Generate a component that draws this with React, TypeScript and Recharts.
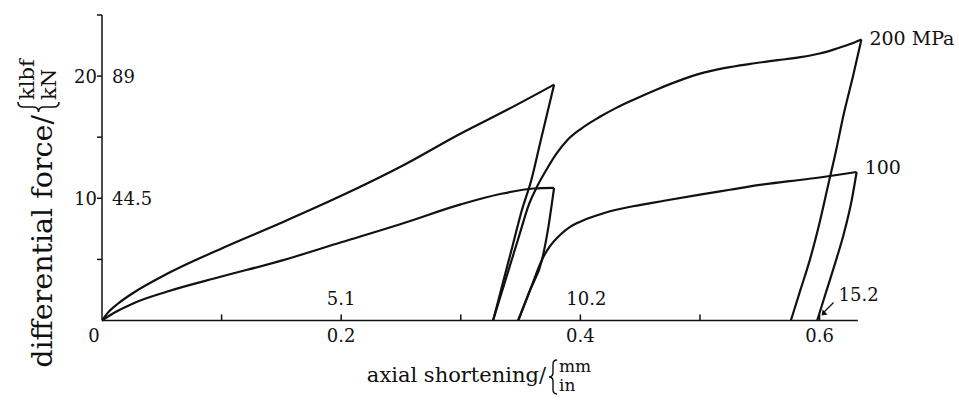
import { LineChart, Line, XAxis, YAxis, ReferenceLine } from "recharts";

type Pt = [number, number];

// axial shortening (in) vs differential force (klbf), loops split into loading / unloading legs
const load200a: Pt[] = [
  [0, 0], [0.006, 0.75], [0.013, 1.35], [0.026, 2.25], [0.054, 3.8], [0.1, 5.9], [0.15, 8.0],
  [0.2, 10.2], [0.25, 12.6], [0.3, 15.3], [0.34, 17.3], [0.378, 19.3],
];
const unload200a: Pt[] = [
  [0.327, 0], [0.335, 3], [0.343, 6], [0.351, 9], [0.359, 11.5], [0.367, 14.8], [0.378, 19.3],
];
const load200b: Pt[] = [
  [0.327, 0], [0.338, 3.5], [0.349, 7], [0.357, 9.5], [0.364, 11.0], [0.372, 12.4], [0.38, 13.65],
  [0.389, 14.75], [0.4, 15.65], [0.416, 16.65], [0.43, 17.4], [0.444, 18.05], [0.465, 18.95],
  [0.486, 19.75], [0.5, 20.2], [0.52, 20.65], [0.542, 21.0], [0.565, 21.3], [0.584, 21.55],
  [0.6, 21.85], [0.611, 22.15], [0.625, 22.6], [0.635, 23.0],
];
const unload200b: Pt[] = [
  [0.576, 0], [0.584, 2.5], [0.592, 5], [0.6, 8], [0.607, 11], [0.614, 14], [0.62, 16.8],
  [0.628, 20], [0.635, 23.0],
];
const load100a: Pt[] = [
  [0, 0], [0.0125, 0.75], [0.026, 1.4], [0.054, 2.35], [0.1, 3.6], [0.15, 4.9], [0.2, 6.4],
  [0.25, 7.9], [0.3, 9.5], [0.333, 10.35], [0.361, 10.8], [0.378, 10.85],
];
const unload100a: Pt[] = [
  [0.348, 0], [0.358, 2.5], [0.368, 5], [0.373, 7.5], [0.378, 10.85],
];
const load100b: Pt[] = [
  [0.348, 0], [0.358, 2.5], [0.368, 5], [0.374, 6], [0.383, 7.0], [0.392, 7.7], [0.405, 8.3],
  [0.42, 8.8], [0.444, 9.35], [0.47, 9.8], [0.5, 10.3], [0.525, 10.7], [0.55, 11.1],
  [0.575, 11.4], [0.6, 11.7], [0.631, 12.15],
];
const unload100b: Pt[] = [
  [0.598, 0], [0.606, 2.5], [0.614, 5], [0.62, 7], [0.627, 9.9], [0.631, 12.15],
];

const xTicks = [0, 0.1, 0.2, 0.3, 0.4, 0.5, 0.6];
const inchLabels = ["0", "", "0.2", "", "0.4", "", "0.6"];
const mmLabels = ["", "", "5.1", "", "10.2", "", "15.2"];
const yTicks = [0, 5, 10, 15, 20, 25];
const klbfLabels = ["", "", "10", "", "20", ""];
const kNLabels = ["", "", "44.5", "", "89", ""];
const xAxisEnd = 0.632;

const INK = "#111";
const FONT = "'DejaVu Serif', 'Liberation Serif', serif";

const toPts = (arr: Pt[]) => arr.map(([x, y]) => ({ x, y }));

// vertical curly brace opening to the right, point at x, spanning y0..y1
const brace = (x: number, y0: number, y1: number, w: number) => {
  const m = (y0 + y1) / 2;
  const c = x + w / 2;
  const r = w * 0.55;
  return `M${x + w},${y0} Q${c},${y0} ${c},${y0 + r} L${c},${m - r} Q${c},${m} ${x},${m} Q${c},${m} ${c},${m + r} L${c},${y1 - r} Q${c},${y1} ${x + w},${y1}`;
};

const series = [
  { key: "load200a", data: load200a },
  { key: "unload200a", data: unload200a },
  { key: "load200b", data: load200b, tag: "200 MPa", dy: 6 },
  { key: "unload200b", data: unload200b },
  { key: "load100a", data: load100a },
  { key: "unload100a", data: unload100a },
  { key: "load100b", data: load100b, tag: "100", dy: 2 },
  { key: "unload100b", data: unload100b },
];

function XTick(props: any) {
  const { x, y, payload } = props;
  const i = xTicks.indexOf(payload.value);
  const inch = inchLabels[i];
  const mm = mmLabels[i];
  const last = i === xTicks.length - 1;
  return (
    <g fontFamily={FONT} fontSize={18} fill={INK}>
      {i > 0 && <line x1={x} y1={y} x2={x} y2={y - 6} stroke={INK} strokeWidth={1.5} />}
      {inch && (
        <text x={i === 0 ? x - 8 : x} y={y + 21} textAnchor="middle" fill={INK}>
          {inch}
        </text>
      )}
      {mm && !last && (
        <text x={x + (i === 4 ? 6 : 0)} y={y - 16} textAnchor="middle" fill={INK}>
          {mm}
        </text>
      )}
      {mm && last && (
        <g>
          <text x={x + 39} y={y - 20} textAnchor="middle" fill={INK}>
            {mm}
          </text>
          <line x1={x + 14} y1={y - 18} x2={x + 4} y2={y - 8} stroke={INK} strokeWidth={1.3} />
          <path d={`M${x + 2},${y - 5} L${x + 3},${y - 11} L${x + 8},${y - 6} Z`} fill={INK} />
        </g>
      )}
    </g>
  );
}

function YTick(props: any) {
  const { x, y, payload } = props;
  const i = yTicks.indexOf(payload.value);
  return (
    <g fontFamily={FONT} fontSize={18} fill={INK}>
      {i > 0 && <line x1={x - 5} y1={y} x2={x} y2={y} stroke={INK} strokeWidth={1.5} />}
      {klbfLabels[i] && (
        <text x={x - 5} y={y} textAnchor="end" dominantBaseline="central" fill={INK}>
          {klbfLabels[i]}
        </text>
      )}
      {kNLabels[i] && (
        <text x={x + 10} y={y} textAnchor="start" dominantBaseline="central" fill={INK}>
          {kNLabels[i]}
        </text>
      )}
    </g>
  );
}

function YTitle() {
  return (
    <g transform="translate(52, 366) rotate(-90)" fontFamily={FONT} fill={INK}>
      <text x={251} y={0} fontSize={28.5} textAnchor="end" fill={INK}>
        differential force/
      </text>
      <path d={brace(254, -34, 7, 10)} fill="none" stroke={INK} strokeWidth={1.6} />
      <text x={266} y={-18} fontSize={21} fill={INK}>
        klbf
      </text>
      <text x={266} y={4} fontSize={21} fill={INK}>
        kN
      </text>
    </g>
  );
}

function XTitle() {
  return (
    <g fontFamily={FONT} fill={INK}>
      <text x={546} y={382} fontSize={21} textAnchor="end" fill={INK}>
        axial shortening/
      </text>
      <path d={brace(549, 360, 394, 8)} fill="none" stroke={INK} strokeWidth={1.4} />
      <text x={559} y={372} fontSize={17} fill={INK}>
        mm
      </text>
      <text x={559} y={391} fontSize={17} fill={INK}>
        in
      </text>
    </g>
  );
}

function endTag(tag: string | undefined, count: number, dy: number) {
  return (p: any) =>
    tag && p.index === count - 1 ? (
      <text key={tag} x={p.x + 8} y={p.y + dy} fontFamily={FONT} fontSize={19} fill={INK}>
        {tag}
      </text>
    ) : null;
}

export default function App() {
  return (
    <div style={{ position: "absolute", left: 0, top: 0, width: 959, height: 400, background: "#fff" }}>
      <LineChart width={959} height={400} margin={{ top: 15, right: 91.6, bottom: 78.5, left: 101 }}>
        <XAxis
          type="number"
          dataKey="x"
          domain={[0, 0.64]}
          ticks={xTicks}
          interval={0}
          height={1}
          axisLine={false}
          tickLine={false}
          tickSize={0}
          tickMargin={0}
          tick={<XTick />}
          allowDataOverflow
          label={{ content: <XTitle /> }}
        />
        <YAxis
          type="number"
          dataKey="y"
          domain={[0, 25]}
          ticks={yTicks}
          interval={0}
          width={1}
          axisLine={{ stroke: INK, strokeWidth: 1.5 }}
          tickLine={false}
          tickSize={0}
          tickMargin={0}
          tick={<YTick />}
          label={{ content: <YTitle /> }}
        />
        <ReferenceLine
          segment={[{ x: 0, y: 0 }, { x: xAxisEnd, y: 0 }]}
          stroke={INK}
          strokeWidth={1.5}
          ifOverflow="visible"
        />
        {series.map((s) => (
          <Line
            key={s.key}
            data={toPts(s.data)}
            dataKey="y"
            type="monotone"
            stroke={INK}
            strokeWidth={2.2}
            dot={false}
            activeDot={false}
            isAnimationActive={false}
            label={endTag(s.tag, s.data.length, s.dy ?? 0)}
          />
        ))}
      </LineChart>
    </div>
  );
}
